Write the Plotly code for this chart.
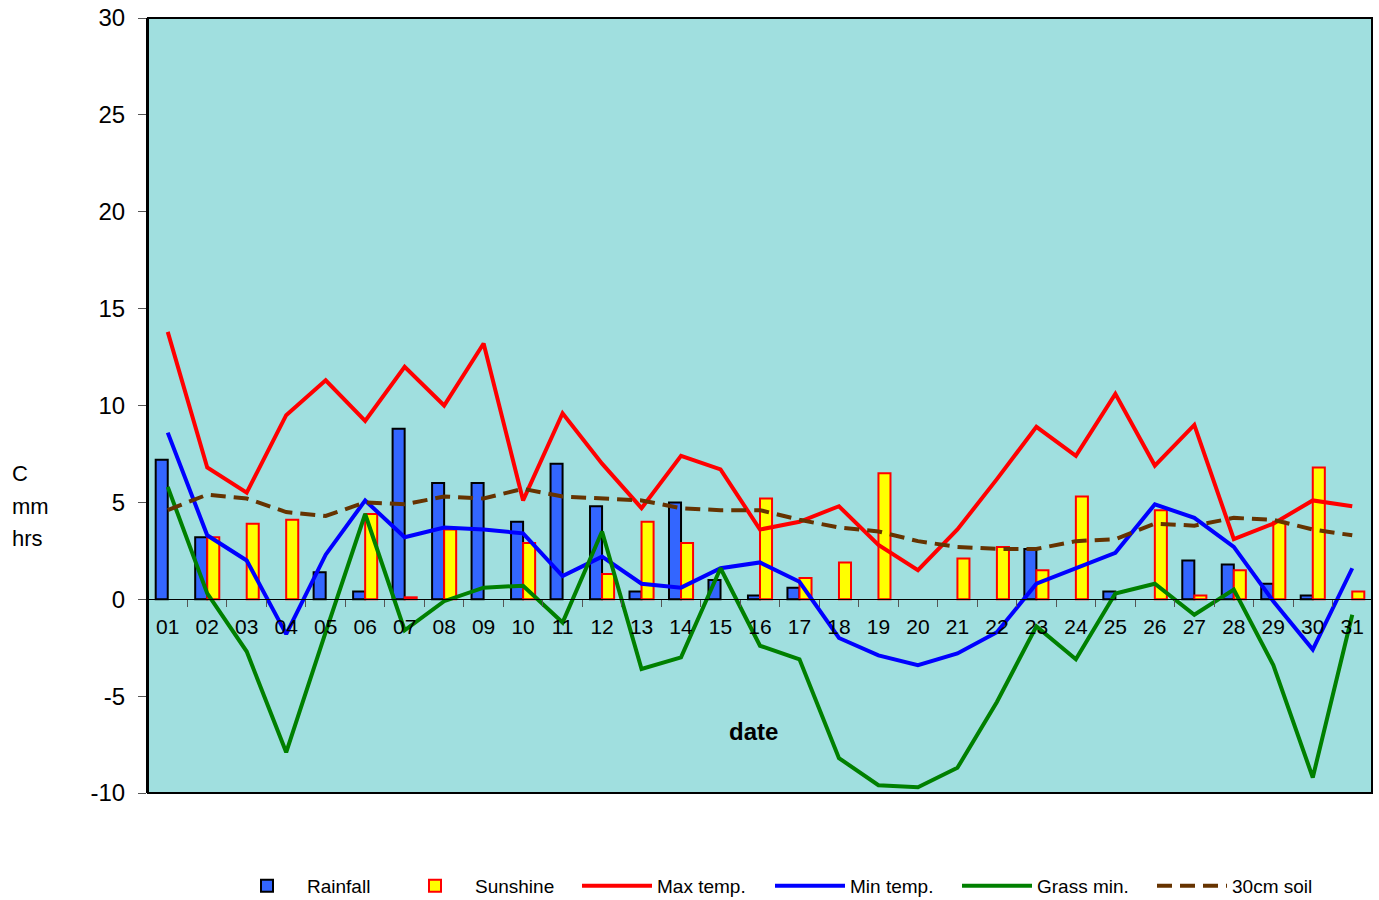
import plotly.graph_objects as go

dates = [f"{d:02d}" for d in range(1, 32)]

rainfall = [7.2, 3.2, 0, 0, 1.4, 0.4, 8.8, 6.0, 6.0, 4.0,
            7.0, 4.8, 0.4, 5.0, 1.0, 0.2, 0.6, 0, 0, 0,
            0, 0, 2.6, 0, 0.4, 0, 2.0, 1.8, 0.8, 0.2, 0]
sunshine = [0, 3.2, 3.9, 4.1, 0, 4.4, 0.1, 3.6, 0, 2.9,
            0, 1.3, 4.0, 2.9, 0, 5.2, 1.1, 1.9, 6.5, 0,
            2.1, 2.7, 1.5, 5.3, 0, 4.6, 0.2, 1.5, 4.0, 6.8, 0.4]
max_temp = [13.8, 6.8, 5.5, 9.5, 11.3, 9.2, 12.0, 10.0, 13.2, 5.1,
            9.6, 7.0, 4.7, 7.4, 6.7, 3.6, 4.0, 4.8, 2.8, 1.5,
            3.6, 6.2, 8.9, 7.4, 10.6, 6.9, 9.0, 3.1, 3.9, 5.1, 4.8]
min_temp = [8.6, 3.3, 2.0, -1.8, 2.3, 5.1, 3.2, 3.7, 3.6, 3.4,
            1.2, 2.2, 0.8, 0.6, 1.6, 1.9, 0.9, -2.0, -2.9, -3.4,
            -2.8, -1.7, 0.8, 1.6, 2.4, 4.9, 4.2, 2.7, -0.1, -2.6, 1.6]
grass_min = [5.8, 0.3, -2.7, -7.9, -1.7, 4.4, -1.6, -0.1, 0.6, 0.7,
             -1.2, 3.5, -3.6, -3.0, 1.6, -2.4, -3.1, -8.2, -9.6, -9.7,
             -8.7, -5.3, -1.4, -3.1, 0.3, 0.8, -0.8, 0.5, -3.4, -9.2, -0.8]
soil_30cm = [4.6, 5.4, 5.2, 4.5, 4.3, 5.0, 4.9, 5.3, 5.2, 5.7,
             5.3, 5.2, 5.1, 4.7, 4.6, 4.6, 4.1, 3.7, 3.5, 3.0,
             2.7, 2.6, 2.6, 3.0, 3.1, 3.9, 3.8, 4.2, 4.1, 3.6, 3.3]

y_ticks = [-10, -5, 0, 5, 10, 15, 20, 25, 30]
y_title_lines = ["C", "mm", "hrs"]

FONT = "Liberation Sans, Arial, sans-serif"
W, H = 1379, 900
PLOT_L, PLOT_T, PLOT_W, PLOT_H = 148, 18, 1224, 775


def nz(vals):
    # days with no rain / no sun draw no bar
    return [v if v else None for v in vals]


fig = go.Figure()
fig.add_trace(go.Bar(x=dates, y=nz(rainfall), name="Rainfall", legend="legend",
                     marker=dict(color="#3366FF", line=dict(color="black", width=2))))
fig.add_trace(go.Bar(x=dates, y=nz(sunshine), name="Sunshine", legend="legend2",
                     marker=dict(color="#FFFF00", line=dict(color="#FF0000", width=2))))
fig.add_trace(go.Scatter(x=dates, y=max_temp, name="Max temp.", mode="lines", legend="legend3",
                         line=dict(color="#FF0000", width=4)))
fig.add_trace(go.Scatter(x=dates, y=min_temp, name="Min temp.", mode="lines", legend="legend4",
                         line=dict(color="#0000FF", width=4)))
fig.add_trace(go.Scatter(x=dates, y=grass_min, name="Grass min.", mode="lines", legend="legend5",
                         line=dict(color="#008000", width=4)))
fig.add_trace(go.Scatter(x=dates, y=soil_30cm, name="30cm soil", mode="lines", legend="legend6",
                         line=dict(color="#663300", width=4, dash="15px,8px")))

zero_pos = (0 - y_ticks[0]) / (y_ticks[-1] - y_ticks[0])

legend_starts = [232, 400, 582, 775, 962, 1157]


def legend_cfg(px):
    return dict(orientation="h", xref="container", yref="container",
                x=(px - 5) / W, xanchor="left", y=1 - 886 / H, yanchor="middle",
                font=dict(size=19), bgcolor="rgba(0,0,0,0)", itemwidth=70,
                borderwidth=0)


legend_layout = {}
for i, px in enumerate(legend_starts):
    key = "legend" if i == 0 else f"legend{i + 1}"
    legend_layout[key] = legend_cfg(px)

fig.update_layout(
    width=W, height=H,
    margin=dict(l=PLOT_L, r=W - PLOT_L - PLOT_W, t=PLOT_T, b=H - PLOT_T - PLOT_H,
                autoexpand=False),
    paper_bgcolor="white",
    plot_bgcolor="#A0DFDF",
    font=dict(family=FONT, color="black"),
    barmode="group", bargap=0.39, bargroupgap=0,
    showlegend=True,
    xaxis=dict(type="category", categoryorder="array", categoryarray=dates,
               range=[-0.5, len(dates) - 0.5], automargin=False,
               anchor="free", position=zero_pos,
               showline=True, linecolor="black", linewidth=1,
               showgrid=False, zeroline=False,
               tickson="boundaries", ticks="outside", ticklen=7, tickcolor="#555555",
               tickfont=dict(size=21), ticklabelstandoff=9),
    xaxis2=dict(overlaying="x", range=[-0.5, len(dates) - 0.5], automargin=False,
                anchor="free", position=zero_pos,
                showline=False, showgrid=False, zeroline=False,
                tickvals=[i + 0.5 for i in range(len(dates) - 1)],
                showticklabels=False,
                ticks="inside", ticklen=7, tickcolor="#555555"),
    yaxis=dict(range=[y_ticks[0], y_ticks[-1]], tickvals=y_ticks,
               ticktext=[str(v) for v in y_ticks], automargin=False,
               showgrid=False, zeroline=False,
               showline=True, linecolor="black", linewidth=2,
               ticks="outside", ticklen=8, tickcolor="#555555",
               tickfont=dict(size=24), ticklabelstandoff=8),
    **legend_layout,
)

fig.add_shape(type="rect", xref="paper", yref="paper", x0=0, x1=1, y0=0, y1=1,
              line=dict(color="black", width=2), fillcolor="rgba(0,0,0,0)", layer="above")

for txt, py in zip(y_title_lines, [473, 506, 538]):
    fig.add_annotation(text=txt, xref="paper", yref="paper",
                       x=(10 - PLOT_L) / PLOT_W, y=(PLOT_T + PLOT_H - py) / PLOT_H,
                       xanchor="left", yanchor="middle",
                       showarrow=False, font=dict(size=22))
fig.add_annotation(text="<b>date</b>", xref="paper", yref="paper",
                   x=(753 - PLOT_L) / PLOT_W, y=(PLOT_T + PLOT_H - 731) / PLOT_H,
                   xanchor="center", yanchor="middle",
                   showarrow=False, font=dict(size=24))

fig.write_html(
    "out.html",
    config={"displayModeBar": False},
    post_script="document.body.style.margin='0';document.body.style.overflow='hidden';",
)
